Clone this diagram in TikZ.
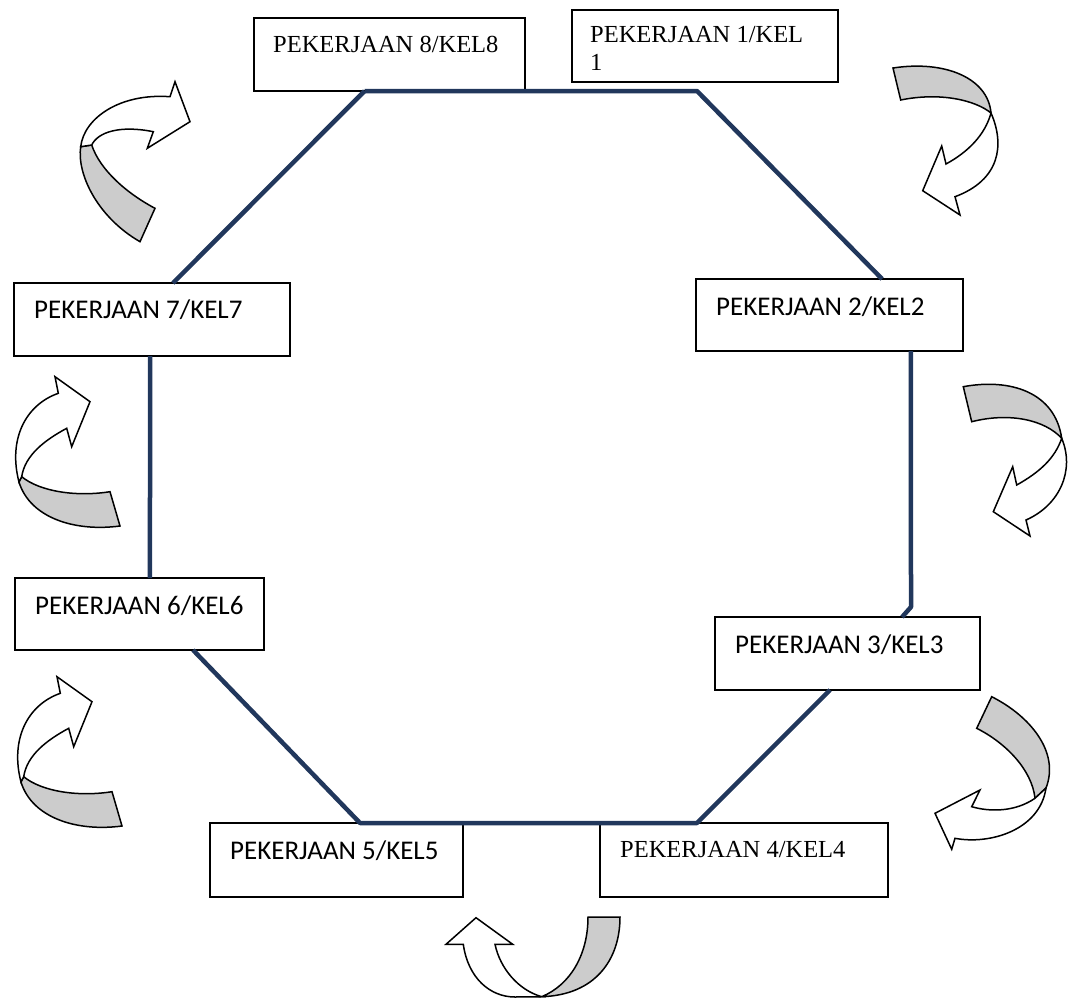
\documentclass[tikz,border=0pt]{standalone}
\usepackage{fontspec}
\setmainfont{Liberation Serif}
\newfontfamily\calfont{Carlito}
\usetikzlibrary{calc}
\definecolor{octline}{RGB}{33,55,92}
\definecolor{arrgrey}{RGB}{204,204,204}
\tikzset{
  box/.style={draw=black, line width=1.3pt, inner sep=0pt, outer sep=0pt, anchor=north west},
  sertext/.style={anchor=base west, inner sep=0pt, font=\fontsize{24.5}{28}\selectfont, align=left},
  santext/.style={anchor=base west, inner sep=0pt, font=\calfont\fontsize{27}{31}\selectfont},
  oct/.style={draw=octline, line width=4.5pt, line join=round},
  backpart/.style={draw=black, fill=arrgrey, line width=1.5pt, line join=miter},
  frontpart/.style={draw=black, fill=white, line width=1.5pt, line join=miter},
}
\begin{document}
\begin{tikzpicture}[x=1pt,y=-1pt]
\useasboundingbox (0,0) rectangle (1069,999);
% boxes
\node[box, minimum width=271pt, minimum height=73pt] (b8) at (254,18) {};
\node[box, minimum width=266pt, minimum height=72pt] (b1) at (572,10) {};
\node[box, minimum width=267pt, minimum height=72pt] (b2) at (696,279) {};
\node[box, minimum width=276pt, minimum height=73pt] (b7) at (14,283) {};
\node[box, minimum width=249pt, minimum height=72pt] (b6) at (15,578) {};
\node[box, minimum width=265pt, minimum height=73pt] (b3) at (715,617) {};
\node[box, minimum width=253pt, minimum height=74pt] (b5) at (210,823) {};
\node[box, minimum width=288pt, minimum height=74pt] (b4) at (600,823) {};
% texts
\node[sertext] (t8) at (273,52) {PEKERJAAN 8/KEL8};
\node[sertext] (t1) at (590,42) {PEKERJAAN 1/KEL};
\node[sertext] (t1b) at (590,70) {1};
\node[santext] (t2) at (716,315) {PEKERJAAN 2/KEL2};
\node[santext] (t7) at (34,318) {PEKERJAAN 7/KEL7};
\node[santext] (t6) at (35,614) {PEKERJAAN 6/KEL6};
\node[santext] (t3) at (735,653) {PEKERJAAN 3/KEL3};
\node[santext] (t5) at (230,859) {PEKERJAAN 5/KEL5};
\node[sertext] (t4) at (620,857) {PEKERJAAN 4/KEL4};
% octagon
\coordinate (c1) at (697,91);
\coordinate (c2) at (911,607);
\coordinate (c3) at (697,823);
\draw[oct] ($(b8.south west)!0.408!(b8.south east)$) -- (c1) -- ($(b2.north west)!0.697!(b2.north east)$);
\draw[oct] ($(b2.south west)!0.805!(b2.south east)$) -- (c2) -- ($(b3.north west)!0.706!(b3.north east)$);
\draw[oct] ($(b3.south west)!0.434!(b3.south east)$) -- (c3) -- ($(b5.north west)!0.593!(b5.north east)$) -- ($(b6.south west)!0.715!(b6.south east)$);
\draw[oct] ($(b6.north west)!0.542!(b6.north east)$) -- ($(b7.south west)!0.493!(b7.south east)$);
\draw[oct] ($(b7.north west)!0.576!(b7.north east)$) -- ($(b8.south west)!0.408!(b8.south east)$);
% arrow 1 (top left)
\path[backpart] (80.7,146.7) .. controls (76.7,173.3) and (96.7,216.7) .. (140,241.7) -- (155,208.3) .. controls (126.7,193.3) and (100,170) .. (91.7,145) -- cycle;
\path[frontpart] (80.7,146.7) .. controls (84,118) and (120,93) .. (170,96.7) -- (175,81.7) -- (190,121.7) -- (147.3,148.3) -- (153.3,131.7) .. controls (120,125) and (98,132) .. (91.7,145) -- cycle;
% arrow 2 (top right)
\path[backpart] (893,68) .. controls (945,60) and (988,78) .. (991,113) .. controls (975,100) and (940,92) .. (900.7,100) -- cycle;
\path[frontpart] (991,113) .. controls (1005,145) and (1000,180) .. (955,196.7) -- (960,215) -- (922.7,190.7) -- (941.7,146) -- (946,164) .. controls (968,152) and (985,135) .. (991,113) -- cycle;
% arrow 3 (right middle)
\path[backpart] (963.3,386.7) .. controls (1010,378) and (1055,392) .. (1061.7,438.3) .. controls (1045,420) and (1010,412) .. (971.7,421.7) -- cycle;
\path[frontpart] (1061.7,438.3) .. controls (1075,470) and (1060,505) .. (1026,520) -- (1030,536) -- (993.3,511.7) -- (1012.7,466.7) -- (1016.7,485) .. controls (1040,472) and (1055,458) .. (1061.7,438.3) -- cycle;
% arrow 4 (right bottom)
\path[backpart] (991.7,696.7) .. controls (1030,716) and (1060,752) .. (1046,788) -- (1035,798.3) .. controls (1032,770) and (1006,743) .. (976.7,728.3) -- cycle;
\path[frontpart] (1035,798.3) .. controls (1015,812) and (990,812) .. (971.7,806.7) -- (980,790) -- (935,813.3) -- (951.7,849.3) -- (955,838.3) .. controls (990,845) and (1040,830) .. (1046,788) -- cycle;
% arrow 5 (bottom)
\path[backpart] (588,917) -- (620,917) .. controls (620,960) and (595,995) .. (541.7,996.7) .. controls (570,985) and (588,955) .. (588,917) -- cycle;
\path[frontpart] (541.7,996.7) .. controls (518,990) and (500,968) .. (495,944.3) -- (512.7,944.3) -- (476,917.7) -- (446,944.3) -- (463.3,944.3) .. controls (468,978) and (490,997) .. (515,997) -- cycle;
% arrow 6 (left middle)
\path[backpart] (21.7,476.7) .. controls (40,491.7) and (76.7,497) .. (110,491.7) -- (120,526) .. controls (75,532) and (30,518) .. (19,482) -- cycle;
\path[frontpart] (19,482) .. controls (8,440) and (25,405) .. (58.3,393.3) -- (55,376.7) -- (90,401.7) -- (71.7,446.7) -- (66.7,428.3) .. controls (45,440) and (25,455) .. (21.7,476.7) -- cycle;
% arrow 7 (left lower)
\begin{scope}[shift={(2,300)}]
\path[backpart] (21.7,476.7) .. controls (40,491.7) and (76.7,497) .. (110,491.7) -- (120,526) .. controls (75,532) and (30,518) .. (19,482) -- cycle;
\path[frontpart] (19,482) .. controls (8,440) and (25,405) .. (58.3,393.3) -- (55,376.7) -- (90,401.7) -- (71.7,446.7) -- (66.7,428.3) .. controls (45,440) and (25,455) .. (21.7,476.7) -- cycle;
\end{scope}
\end{tikzpicture}
\end{document}
